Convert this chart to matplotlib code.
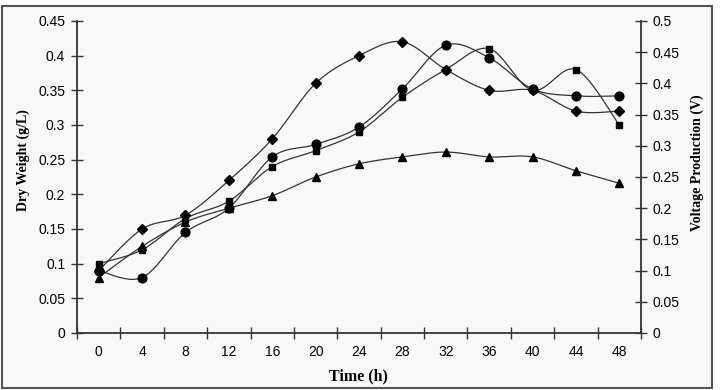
import numpy as np
import matplotlib
matplotlib.use("Agg")
import matplotlib.pyplot as plt
from matplotlib.patches import Rectangle

hours = [0, 4, 8, 12, 16, 20, 24, 28, 32, 36, 40, 44, 48]
diamond = [0.09, 0.15, 0.17, 0.22, 0.28, 0.36, 0.40, 0.42, 0.38, 0.35, 0.35, 0.32, 0.32]
square = [0.10, 0.12, 0.165, 0.19, 0.24, 0.263, 0.29, 0.34, 0.38, 0.41, 0.35, 0.38, 0.30]
circle = [0.09, 0.08, 0.145, 0.18, 0.254, 0.272, 0.297, 0.352, 0.415, 0.397, 0.352, 0.342, 0.342]
triangle = [0.08, 0.125, 0.16, 0.18, 0.198, 0.225, 0.244, 0.254, 0.261, 0.254, 0.254, 0.234, 0.216]

left_ticks = [0, 0.05, 0.1, 0.15, 0.2, 0.25, 0.3, 0.35, 0.4, 0.45]
right_ticks = [0, 0.05, 0.1, 0.15, 0.2, 0.25, 0.3, 0.35, 0.4, 0.45, 0.5]


def smooth(xs, ys, n=24):
    # catmull-rom, like excel's smoothed line
    p = np.column_stack([xs, ys]).astype(float)
    p = np.vstack([p[0], p, p[-1]])
    out = []
    for i in range(1, len(p) - 2):
        p0, p1, p2, p3 = p[i - 1], p[i], p[i + 1], p[i + 2]
        t = np.linspace(0, 1, n)[:, None]
        seg = 0.5 * ((2 * p1) + (-p0 + p2) * t
                     + (2 * p0 - 5 * p1 + 4 * p2 - p3) * t ** 2
                     + (-p0 + 3 * p1 - 3 * p2 + p3) * t ** 3)
        out.append(seg)
    out = np.vstack(out)
    return out[:, 0], out[:, 1]


plt.rcParams['font.family'] = 'Liberation Sans'
fig = plt.figure(figsize=(7.2, 3.9), dpi=100, facecolor='white')
fig.patches.append(Rectangle((2 / 720, 2 / 390), 710 / 720, 382 / 390,
                             transform=fig.transFigure, facecolor='#f8f8f8',
                             edgecolor='#555555', linewidth=1.5, zorder=-10))

ax = fig.add_axes([77 / 720, 57 / 390, 564 / 720, 312 / 390])
ax.set_facecolor('none')
x = np.arange(len(hours))

for vals, m, ms in [(diamond, 'D', 5.2), (square, 's', 5), (circle, 'o', 6.3), (triangle, '^', 6.3)]:
    sx, sy = smooth(x, vals)
    ax.plot(sx, sy, color='#333333', lw=0.9, zorder=2)
    ax.plot(x, vals, ls='none', marker=m, ms=ms, color='black', zorder=3)

ax.set_xlim(-0.5, len(hours) - 0.5)
ax.set_ylim(0, 0.45)
ax.set_xticks(np.arange(-0.5, len(hours)), [''] * (len(hours) + 1))
ax.set_xticks(x, [str(h) for h in hours], minor=True)
ax.tick_params(axis='x', which='major', direction='inout', length=8, width=1, color='#333333')
ax.tick_params(axis='x', which='minor', length=0, labelsize=10, pad=9)
ax.set_yticks(left_ticks, [f'{v:g}' for v in left_ticks])
ax.tick_params(axis='y', direction='inout', length=9, width=1, color='#333333', labelsize=10, pad=4)

for s in ['top', 'right']:
    ax.spines[s].set_visible(False)
for s in ['left', 'bottom']:
    ax.spines[s].set_color('#333333')
    ax.spines[s].set_linewidth(1.3)

ax2 = ax.twinx()
ax2.set_ylim(0, 0.5)
ax2.set_yticks(right_ticks, [f'{v:g}' for v in right_ticks])
ax2.tick_params(axis='y', direction='inout', length=9, width=1, color='#333333', labelsize=10, pad=4)
for s in ['top', 'left', 'bottom']:
    ax2.spines[s].set_visible(False)
ax2.spines['right'].set_color('#333333')
ax2.spines['right'].set_linewidth(1.3)

fig.text(23 / 720, 1 - 160 / 390, 'Dry Weight (g/L)', rotation=90, ha='center', va='center',
         family='Liberation Serif', weight='bold', fontsize=10)
fig.text(697 / 720, 1 - 163 / 390, 'Voltage Production (V)', rotation=90, ha='center', va='center',
         family='Liberation Serif', weight='bold', fontsize=10)
fig.text(358 / 720, 1 - 376 / 390, 'Time (h)', ha='center', va='center',
         family='Liberation Serif', weight='bold', fontsize=11.5)

fig.savefig('out.png', dpi=100, facecolor=fig.get_facecolor())
